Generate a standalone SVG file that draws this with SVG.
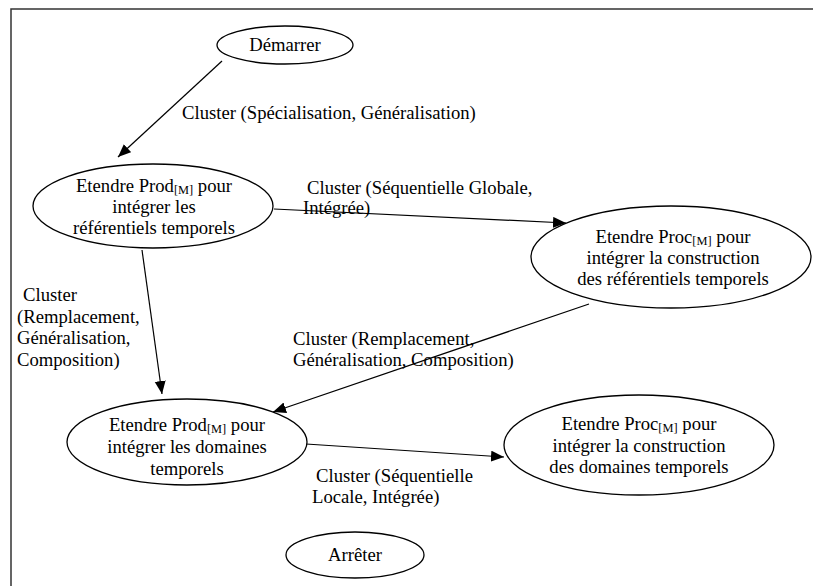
<svg xmlns="http://www.w3.org/2000/svg" width="813" height="586" viewBox="0 0 813 586">
<defs>
<style>
text{font-family:"Liberation Serif","Times New Roman",serif;font-size:18.67px;fill:#000}
.n{fill:#fff;stroke:#000;stroke-width:1.3}
.c{stroke:#000;stroke-width:1.2;fill:none;marker-end:url(#ah)}
.m{text-anchor:middle}
.s{font-size:12.4px}
.fr{stroke:#333;stroke-width:1.5;fill:none}
</style>
<marker id="ah" markerUnits="userSpaceOnUse" markerWidth="14" markerHeight="12" refX="13" refY="5.5" orient="auto">
<path d="M0,0 L13,5.5 L0,11 z" fill="#000"/>
</marker>
</defs>
<rect width="813" height="586" fill="#fff"/>
<path class="fr" d="M11,586 V9 H813"/>
<g id="connectors">
<line class="c" x1="222" y1="61" x2="118" y2="157"/>
<line class="c" x1="274" y1="209" x2="566" y2="223"/>
<line class="c" x1="589" y1="304" x2="273" y2="412"/>
<line class="c" x1="142" y1="250" x2="162" y2="394"/>
<line class="c" x1="306" y1="444" x2="504" y2="457"/>
</g>
<g id="labels">
<text x="182" y="119">Cluster (Spécialisation, Généralisation)</text>
<text x="307" y="194">Cluster (Séquentielle Globale,</text>
<text x="303" y="214">Intégrée)</text>
<text x="293" y="345">Cluster (Remplacement,</text>
<text x="293" y="366">Généralisation, Composition)</text>
<text x="23" y="301">Cluster</text>
<text x="17" y="323">(Remplacement,</text>
<text x="17" y="344">Généralisation,</text>
<text x="17" y="366">Composition)</text>
<text x="316" y="482">Cluster (Séquentielle</text>
<text x="312" y="503">Locale, Intégrée)</text>
</g>
<g id="demarrer">
<ellipse class="n" cx="285" cy="45" rx="68" ry="19"/>
<text class="m" x="285" y="51">Démarrer</text>
</g>
<g id="prod1">
<ellipse class="n" cx="153" cy="206" rx="120" ry="42"/>
<text class="m" x="154" y="192">Etendre Prod<tspan class="s" dy="2">[M]</tspan><tspan dy="-2"> pour</tspan></text>
<text class="m" x="154" y="213">intégrer les</text>
<text class="m" x="154" y="234">référentiels temporels</text>
</g>
<g id="proc1">
<ellipse class="n" cx="671" cy="257" rx="140" ry="51"/>
<text class="m" x="673" y="243">Etendre Proc<tspan class="s" dy="2">[M]</tspan><tspan dy="-2"> pour</tspan></text>
<text class="m" x="673" y="264">intégrer la construction</text>
<text class="m" x="673" y="285">des référentiels temporels</text>
</g>
<g id="prod2">
<ellipse class="n" cx="187" cy="442" rx="120" ry="43"/>
<text class="m" x="187" y="431">Etendre Prod<tspan class="s" dy="2">[M]</tspan><tspan dy="-2"> pour</tspan></text>
<text class="m" x="187" y="453">intégrer les domaines</text>
<text class="m" x="187" y="475">temporels</text>
</g>
<g id="proc2">
<ellipse class="n" cx="639" cy="445" rx="135" ry="50"/>
<text class="m" x="639" y="430">Etendre Proc<tspan class="s" dy="2">[M]</tspan><tspan dy="-2"> pour</tspan></text>
<text class="m" x="639" y="452">intégrer la construction</text>
<text class="m" x="639" y="473">des domaines temporels</text>
</g>
<g id="arreter">
<ellipse class="n" cx="355" cy="555" rx="69" ry="23"/>
<text class="m" x="355" y="561">Arrêter</text>
</g>
</svg>
